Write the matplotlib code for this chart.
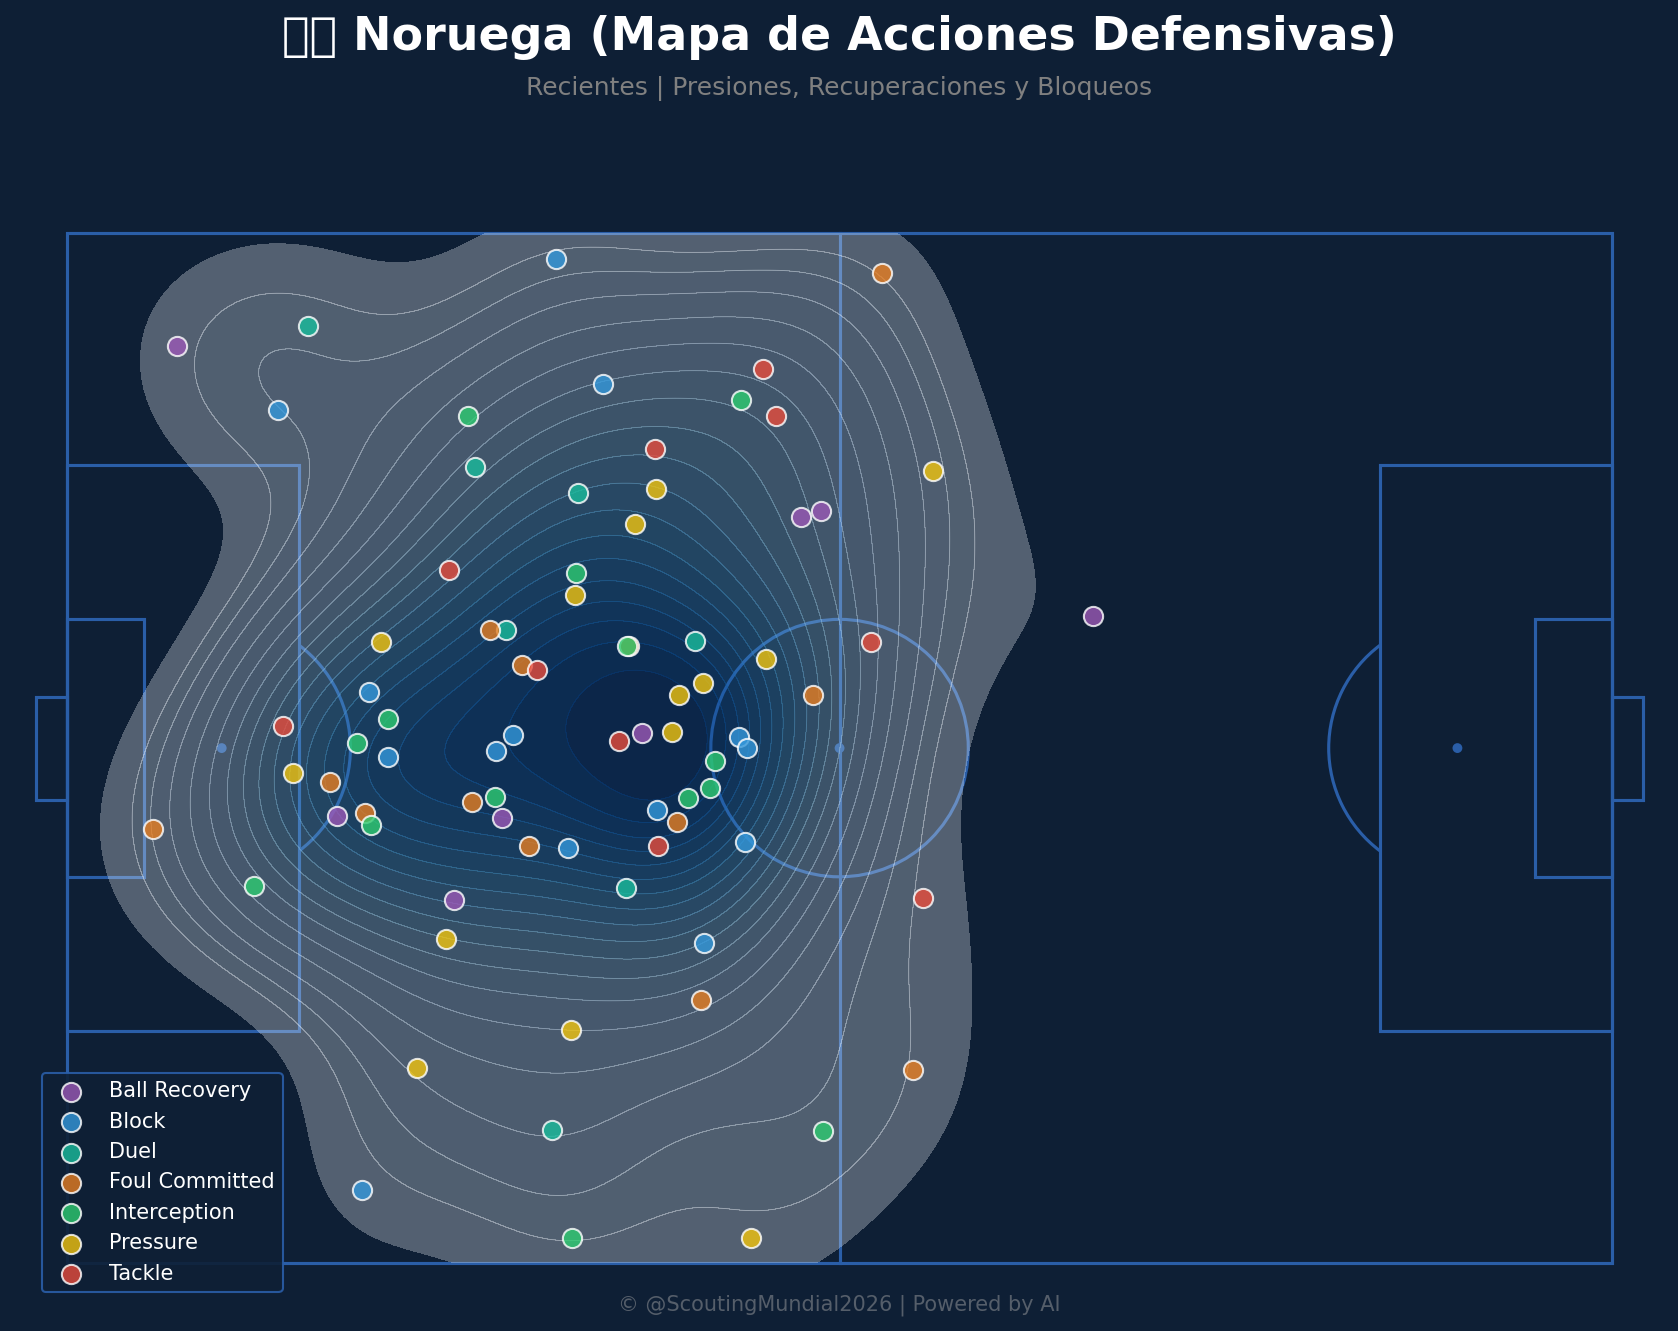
import numpy as np
import seaborn as sns
import matplotlib.pyplot as plt
from matplotlib.patches import Rectangle, Arc, Circle

BG = "#0e1f35"
LINE = "#2a5ea8"

# acciones defensivas (x, y en coordenadas de campo 120x80)
ball_recovery_x = [8.55, 57.02, 58.52, 79.72, 44.64, 20.94, 33.74, 30.08]
ball_recovery_y = [8.78, 22.01, 21.59, 29.74, 38.81, 45.29, 45.46, 51.78]
block_x = [37.98, 16.36, 41.64, 23.43, 24.93, 34.66, 33.33, 52.2, 52.79, 45.8, 38.9, 52.62, 49.46, 22.93]
block_y = [1.97, 13.77, 11.70, 35.65, 40.72, 38.97, 40.22, 39.14, 39.97, 44.79, 47.79, 47.29, 55.11, 74.31]
duel_x = [18.69, 31.66, 39.65, 34.08, 48.79, 43.39, 37.65]
duel_y = [7.20, 18.18, 20.18, 30.82, 31.65, 50.86, 69.66]
foul_x = [63.26, 32.83, 35.32, 57.94, 20.44, 23.1, 31.41, 35.91, 47.38, 6.63, 49.21, 65.68, 43.64]
foul_y = [3.13, 30.82, 33.57, 35.90, 42.63, 45.04, 44.21, 47.62, 45.71, 46.29, 59.60, 65.0, 32.07]
interception_x = [31.17, 52.37, 39.56, 43.47, 24.93, 22.52, 50.29, 49.96, 48.21, 33.24, 23.6, 14.53, 58.69, 39.23]
interception_y = [14.19, 12.94, 26.41, 32.07, 37.72, 39.64, 40.97, 43.13, 43.88, 43.80, 45.96, 50.70, 69.74, 78.06]
pressure_x = [67.26, 45.72, 44.14, 39.48, 24.35, 54.28, 49.38, 47.55, 46.97, 17.53, 29.42, 39.15, 27.17, 53.12]
pressure_y = [18.51, 19.85, 22.59, 28.08, 31.74, 33.07, 34.98, 35.90, 38.72, 41.97, 54.86, 61.92, 64.83, 78.06]
tackle_x = [54.03, 55.03, 45.63, 29.67, 62.43, 36.49, 16.78, 42.89, 45.88, 66.51]
tackle_y = [10.53, 14.19, 16.77, 26.17, 31.74, 33.90, 38.31, 39.47, 47.62, 51.61]

action_names = ["Ball Recovery", "Block", "Duel", "Foul Committed", "Interception", "Pressure", "Tackle"]
action_colors = ["#9b59b6", "#3498db", "#1abc9c", "#e67e22", "#2ecc71", "#f1c40f", "#e74c3c"]
action_xs = [ball_recovery_x, block_x, duel_x, foul_x, interception_x, pressure_x, tackle_x]
action_ys = [ball_recovery_y, block_y, duel_y, foul_y, interception_y, pressure_y, tackle_y]

fig = plt.figure(figsize=(1678 / 150, 1331 / 150), dpi=150, facecolor=BG)
ax = fig.add_axes([0, 0, 1, 1], facecolor=BG)

# ---- campo ----
def draw_pitch(ax):
    kw = dict(fill=False, edgecolor=LINE, linewidth=1.5, zorder=1)
    ax.add_patch(Rectangle((0, 0), 120, 80, **kw))
    ax.plot([60, 60], [0, 80], color=LINE, lw=1.5, zorder=1)
    ax.add_patch(Rectangle((0, 18), 18, 44, **kw))
    ax.add_patch(Rectangle((102, 18), 18, 44, **kw))
    ax.add_patch(Rectangle((0, 30), 6, 20, **kw))
    ax.add_patch(Rectangle((114, 30), 6, 20, **kw))
    ax.add_patch(Rectangle((-2.4, 36), 2.4, 8, **kw))
    ax.add_patch(Rectangle((120, 36), 2.4, 8, **kw))
    ax.add_patch(Circle((60, 40), 10, **kw))
    ax.add_patch(Arc((12, 40), 20, 20, theta1=-53.13, theta2=53.13, edgecolor=LINE, linewidth=1.5, zorder=1))
    ax.add_patch(Arc((108, 40), 20, 20, theta1=126.87, theta2=233.13, edgecolor=LINE, linewidth=1.5, zorder=1))
    for sx in [12, 60, 108]:
        ax.add_patch(Circle((sx, 40), 0.3, color=LINE, zorder=1))

draw_pitch(ax)

# ---- densidad ----
all_x = np.concatenate(action_xs)
all_y = np.concatenate(action_ys)
sns.kdeplot(x=all_x, y=all_y, fill=True, cmap="Blues", levels=20, thresh=0.05, alpha=0.3,
            clip=((0, 120), (0, 80)), ax=ax, zorder=2)
# el contorno exterior no lleva linea
sns.kdeplot(x=all_x, y=all_y, fill=False, cmap="Blues", levels=20, thresh=0.05, alpha=0.25,
            linewidths=[0] + [0.4] * 19, clip=((0, 120), (0, 80)), ax=ax, zorder=2)

# ---- puntos ----
for name, color, xs, ys in zip(action_names, action_colors, action_xs, action_ys):
    ax.scatter(xs, ys, s=85, c=color, edgecolors="white", linewidths=1, alpha=0.8, label=name, zorder=5)

ax.set_xlim(-67.25 / 12.872, (1678 - 67.25) / 12.872)
ax.set_ylim((1331 - 233.2) / 12.872, -233.2 / 12.872)
ax.axis("off")

leg = ax.legend(loc="lower left", bbox_to_anchor=(42 / 1678, 39 / 1331), bbox_transform=fig.transFigure,
                fontsize=10, facecolor=BG, edgecolor=LINE, framealpha=0.9, labelcolor="white", borderaxespad=0)
leg.set_zorder(6)

fig.text(0.5, 0.9717, "\U0001F1F3\U0001F1F4 Noruega (Mapa de Acciones Defensivas)", color="white",
         fontsize=22, fontweight="bold", ha="center", va="center")
fig.text(0.5, 0.9334, "Recientes | Presiones, Recuperaciones y Bloqueos", color="gray",
         fontsize=12, ha="center", va="center")
fig.text(0.5, 0.0192, "© @ScoutingMundial2026 | Powered by AI", color="#555e6a",
         fontsize=10, ha="center", va="center")

fig.savefig("out.png", dpi=150, facecolor=BG)
